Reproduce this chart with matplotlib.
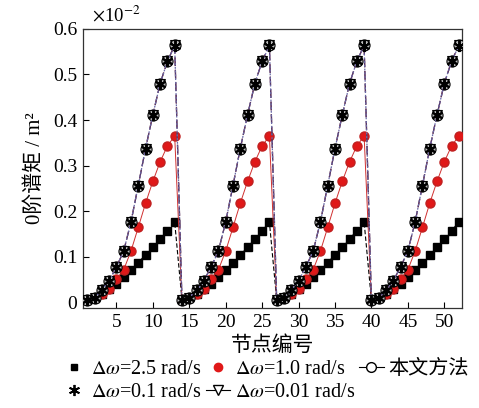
import matplotlib
matplotlib.use("Agg")
import matplotlib.pyplot as plt
from matplotlib.lines import Line2D

plt.rcParams['font.family'] = ['Liberation Serif', 'Noto Sans CJK SC', 'DejaVu Sans']
plt.rcParams['mathtext.fontset'] = 'stix'

nodes = list(range(1, 53))

dw_2_5 = [0.005, 0.010, 0.018, 0.028, 0.040, 0.055, 0.071, 0.087, 0.104, 0.120, 0.139, 0.157, 0.176,
          0.005, 0.010, 0.018, 0.028, 0.040, 0.055, 0.071, 0.087, 0.104, 0.120, 0.139, 0.157, 0.176,
          0.005, 0.010, 0.018, 0.028, 0.040, 0.055, 0.071, 0.087, 0.104, 0.120, 0.139, 0.157, 0.176,
          0.005, 0.010, 0.018, 0.028, 0.040, 0.055, 0.071, 0.087, 0.104, 0.120, 0.139, 0.157, 0.176]
dw_1_0 = [0.004, 0.008, 0.017, 0.029, 0.050, 0.071, 0.112, 0.164, 0.217, 0.265, 0.308, 0.343, 0.365,
          0.004, 0.008, 0.017, 0.029, 0.050, 0.071, 0.112, 0.164, 0.217, 0.265, 0.308, 0.343, 0.365,
          0.004, 0.008, 0.017, 0.029, 0.050, 0.071, 0.112, 0.164, 0.217, 0.265, 0.308, 0.343, 0.365,
          0.004, 0.008, 0.017, 0.029, 0.050, 0.071, 0.112, 0.164, 0.217, 0.265, 0.308, 0.343, 0.365]
dw_0_1 = [0.004, 0.010, 0.026, 0.047, 0.077, 0.112, 0.176, 0.256, 0.337, 0.411, 0.480, 0.529, 0.563,
          0.004, 0.010, 0.026, 0.047, 0.077, 0.112, 0.176, 0.256, 0.337, 0.411, 0.480, 0.529, 0.563,
          0.004, 0.010, 0.026, 0.047, 0.077, 0.112, 0.176, 0.256, 0.337, 0.411, 0.480, 0.529, 0.563,
          0.004, 0.010, 0.026, 0.047, 0.077, 0.112, 0.176, 0.256, 0.337, 0.411, 0.480, 0.529, 0.563]
dw_0_01 = [0.004, 0.010, 0.026, 0.047, 0.077, 0.112, 0.176, 0.256, 0.337, 0.411, 0.480, 0.529, 0.564,
           0.004, 0.010, 0.026, 0.047, 0.077, 0.112, 0.176, 0.256, 0.337, 0.411, 0.480, 0.529, 0.564,
           0.004, 0.010, 0.026, 0.047, 0.077, 0.112, 0.176, 0.256, 0.337, 0.411, 0.480, 0.529, 0.564,
           0.004, 0.010, 0.026, 0.047, 0.077, 0.112, 0.176, 0.256, 0.337, 0.411, 0.480, 0.529, 0.564]
proposed = [0.004, 0.010, 0.026, 0.047, 0.077, 0.112, 0.176, 0.256, 0.337, 0.411, 0.480, 0.529, 0.564,
            0.004, 0.010, 0.026, 0.047, 0.077, 0.112, 0.176, 0.256, 0.337, 0.411, 0.480, 0.529, 0.564,
            0.004, 0.010, 0.026, 0.047, 0.077, 0.112, 0.176, 0.256, 0.337, 0.411, 0.480, 0.529, 0.564,
            0.004, 0.010, 0.026, 0.047, 0.077, 0.112, 0.176, 0.256, 0.337, 0.411, 0.480, 0.529, 0.564]

xticks = [5, 10, 15, 20, 25, 30, 35, 40, 45, 50]
yticks = [0, 0.1, 0.2, 0.3, 0.4, 0.5, 0.6]
ytick_labels = ['0', '0.1', '0.2', '0.3', '0.4', '0.5', '0.6']

labels = [r'$\Delta\omega$=2.5 rad/s', r'$\Delta\omega$=1.0 rad/s', '本文方法',
          r'$\Delta\omega$=0.1 rad/s', r'$\Delta\omega$=0.01 rad/s']

fig = plt.figure(figsize=(4.79, 4.08), dpi=100)
ax = fig.add_axes([0.173, 0.245, 0.791, 0.684])

ax.plot(nodes, dw_2_5, color='black', ls=(0, (4, 2)), lw=0.8, marker='s', ms=5.5, zorder=3)
ax.plot(nodes, dw_1_0, color='#d03030', ls='-', lw=0.7, marker='o', ms=6.5,
        mfc='#e01818', mec='#c02020', zorder=3)
ax.plot(nodes, proposed, color='#7a3a4a', ls=(0, (7, 3)), lw=0.9, marker='o', ms=8,
        mfc='#bbbbbb', mec='black', mew=0.8, zorder=4)
ax.plot(nodes, dw_0_01, color='#5a3a6a', ls=(0, (7, 3)), lw=0.9, marker='v', ms=7,
        mfc='none', mec='black', mew=0.8, zorder=4)
ax.plot(nodes, dw_0_1, color='#6a6aa8', ls=(0, (1.5, 1.5)), lw=0.9, marker=(6, 2, 0), ms=8,
        mec='black', mew=1.4, zorder=5)

ax.set_xlim(0.4, 52.4)
ax.set_ylim(-0.013, 0.6)
ax.set_xticks(xticks)
ax.set_yticks(yticks)
ax.set_yticklabels(ytick_labels)
ax.tick_params(direction='in', length=4, width=0.8, labelsize=14, top=False, right=False, pad=4)
for s in ax.spines.values():
    s.set_linewidth(0.9)
    s.set_color('#333333')

ax.set_xlabel('节点编号', fontsize=15, labelpad=4)
ax.set_ylabel('0阶谱矩 / m²', fontsize=15, labelpad=6)
ax.text(0.025, 1.012, r'$\times$10$^{-2}$', transform=ax.transAxes, fontsize=13.5, va='bottom', ha='left')

h_2_5 = Line2D([], [], color='black', ls='none', marker='s', ms=5)
h_1_0 = Line2D([], [], color='#e01818', ls='none', marker='o', ms=6)
h_prop = Line2D([], [], color='black', ls='-', lw=0.8, marker='o', ms=7, mfc='white', mec='black')
h_0_1 = Line2D([], [], color='black', ls='none', marker=(6, 2, 0), ms=8, mew=1.3)
h_0_01 = Line2D([], [], color='black', ls='-', lw=0.8, marker='v', ms=7, mfc='white', mec='black')

fig.legend([h_2_5, h_0_1, h_1_0, h_0_01, h_prop],
           [labels[0], labels[3], labels[1], labels[4], labels[2]],
           ncol=3, loc='upper left', bbox_to_anchor=(0.13, 0.118), frameon=False,
           fontsize=14.5, handlelength=1.2, handletextpad=0.25, columnspacing=0.2,
           labelspacing=0.2, borderpad=0.0, borderaxespad=0.0)

fig.savefig('out.png', dpi=100)
